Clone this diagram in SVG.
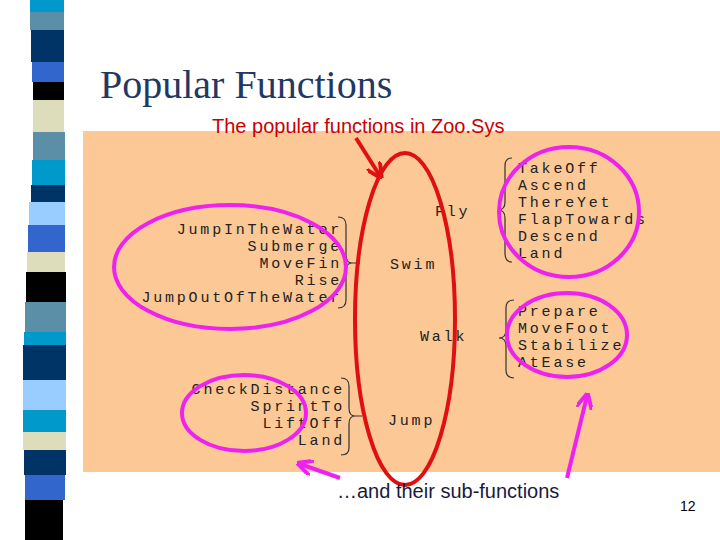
<svg xmlns="http://www.w3.org/2000/svg" width="720" height="540" viewBox="0 0 720 540">
<style>
.m{font-family:"Liberation Mono",monospace;font-size:15px;letter-spacing:2.8px;fill:#222}
.e{text-anchor:end}
.mg{fill:none;stroke:#EE22EE;stroke-width:4}
.br{fill:none;stroke:#333;stroke-width:1.2}
</style>
<defs>
<marker id="ar" viewBox="0 0 10 10" refX="8" refY="5" markerWidth="4" markerHeight="4" orient="auto"><path d="M0,0L10,5L0,10" fill="none" stroke="#E01010" stroke-width="2.5"/></marker>
<marker id="am" viewBox="0 0 10 10" refX="8" refY="5" markerWidth="4" markerHeight="4" orient="auto"><path d="M0,0L10,5L0,10" fill="none" stroke="#EE22EE" stroke-width="2.5"/></marker>
</defs>
<rect width="720" height="540" fill="#fff"/>
<g id="stripe">
<rect x="30" y="0" width="34" height="12" fill="#0099CC"/>
<rect x="30" y="12" width="34" height="18" fill="#5B8FA8"/>
<rect x="31" y="30" width="33" height="32" fill="#003366"/>
<rect x="32" y="62" width="32" height="20" fill="#3366CC"/>
<rect x="33" y="82" width="31" height="18" fill="#000"/>
<rect x="33" y="100" width="31" height="32" fill="#DDDDBB"/>
<rect x="33" y="132" width="32" height="28" fill="#5B8FA8"/>
<rect x="32" y="160" width="33" height="25" fill="#0099CC"/>
<rect x="31" y="185" width="34" height="17" fill="#003366"/>
<rect x="29" y="202" width="36" height="23" fill="#99CCFF"/>
<rect x="28" y="225" width="37" height="27" fill="#3366CC"/>
<rect x="27" y="252" width="38" height="20" fill="#DDDDBB"/>
<rect x="26" y="272" width="40" height="30" fill="#000"/>
<rect x="25" y="302" width="41" height="30" fill="#5B8FA8"/>
<rect x="24" y="332" width="42" height="13" fill="#0099CC"/>
<rect x="23" y="345" width="43" height="35" fill="#003366"/>
<rect x="23" y="380" width="43" height="30" fill="#99CCFF"/>
<rect x="23" y="410" width="43" height="22" fill="#0099CC"/>
<rect x="23" y="432" width="43" height="18" fill="#DDDDBB"/>
<rect x="24" y="450" width="42" height="25" fill="#003366"/>
<rect x="25" y="475" width="40" height="25" fill="#3366CC"/>
<rect x="25" y="500" width="38" height="40" fill="#000"/>
</g>
<text x="100" y="98" font-family="Liberation Serif,serif" font-size="40" fill="#1F3864">Popular Functions</text>
<rect id="panel" x="83" y="131" width="637" height="341" fill="#FBC896"/>
<text x="212" y="133" font-family="Liberation Sans,sans-serif" font-size="20" fill="#CC0000">The popular functions in Zoo.Sys</text>
<g id="main">
<text class="m" x="435" y="216">Fly</text>
<text class="m" x="390" y="269">Swim</text>
<text class="m" x="420" y="341">Walk</text>
<text class="m" x="388" y="425">Jump</text>
</g>
<g id="swimList">
<text class="m e" x="342" y="234">JumpInTheWater</text>
<text class="m e" x="342" y="251">Submerge</text>
<text class="m e" x="342" y="268">MoveFin</text>
<text class="m e" x="342" y="285">Rise</text>
<text class="m e" x="342" y="302">JumpOutOfTheWater</text>
</g>
<g id="flyList">
<text class="m" x="518" y="173">TakeOff</text>
<text class="m" x="518" y="190">Ascend</text>
<text class="m" x="518" y="207">ThereYet</text>
<text class="m" x="518" y="224">FlapTowards</text>
<text class="m" x="518" y="241">Descend</text>
<text class="m" x="518" y="258">Land</text>
</g>
<g id="walkList">
<text class="m" x="518" y="316">Prepare</text>
<text class="m" x="518" y="333">MoveFoot</text>
<text class="m" x="518" y="350">Stabilize</text>
<text class="m" x="518" y="367">AtEase</text>
</g>
<g id="jumpList">
<text class="m e" x="345" y="394">CheckDistance</text>
<text class="m e" x="345" y="411">SprintTo</text>
<text class="m e" x="345" y="428">LiftOff</text>
<text class="m e" x="345" y="445">Land</text>
</g>
<g id="connectors">
<path class="br" d="M512,158 Q505,158 505,166 V202 Q505,210 498,210 Q505,210 505,218 V253 Q505,262 512,262"/>
<path class="br" d="M338,217 Q346,217 346,225 V255 Q346,263 352,263 Q346,263 346,271 V300 Q346,308 338,308 M352,263 H360"/>
<path class="br" d="M514,300 Q506,300 506,308 V330 Q506,338 499,338 Q506,338 506,346 V370 Q506,378 514,378"/>
<path class="br" d="M341,378 Q349,378 349,386 V408 Q349,416 355,416 Q349,416 349,424 V448 Q349,455 341,455 M355,416 H362"/>
<ellipse cx="405" cy="319" rx="50" ry="166" fill="none" stroke="#E01010" stroke-width="4"/>
<line x1="356" y1="138" x2="380" y2="176" stroke="#E01010" stroke-width="4" marker-end="url(#ar)"/>
<ellipse class="mg" cx="230" cy="267" rx="116" ry="62"/>
<ellipse class="mg" cx="569" cy="212" rx="70" ry="65"/>
<ellipse class="mg" cx="567" cy="335" rx="60" ry="42"/>
<ellipse class="mg" cx="244" cy="413" rx="62" ry="38"/>
<line x1="567" y1="478" x2="587" y2="396" stroke="#EE22EE" stroke-width="4" marker-end="url(#am)"/>
<line x1="340" y1="478" x2="300" y2="464" stroke="#EE22EE" stroke-width="4" marker-end="url(#am)"/>
</g>
<text x="337" y="498" font-family="Liberation Sans,sans-serif" font-size="20" fill="#1a1a40">…and their sub-functions</text>
<text x="680" y="511" font-family="Liberation Sans,sans-serif" font-size="14" fill="#000">12</text>
</svg>
